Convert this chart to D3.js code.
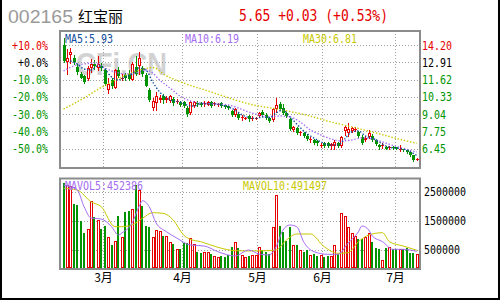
<!DOCTYPE html>
<html>
<head>
<meta charset="utf-8">
<script src="https://cdn.jsdelivr.net/npm/d3@7"></script>
<style>
  body { margin: 0; background: #fff; }
  svg { display: block; }
</style>
</head>
<body>
<script>
// header texts
const stockCode = '002165';
const stockName = '红宝丽';
const quoteText = '5.65 +0.03 (+0.53%)';

// axis ticks
const priceTicks = [14.20, 12.91, 11.62, 10.33, 9.04, 7.75, 6.45];
const priceTickLabels = ['14.20', '12.91', '11.62', '10.33', '9.04', '7.75', '6.45'];
const pctTickLabels = ['+10.0%', '+0.0%', '-10.0%', '-20.0%', '-30.0%', '-40.0%', '-50.0%'];
const volumeTicks = [2500000, 1500000, 500000];
const monthLabels = ['3月', '4月', '5月', '6月', '7月'];
const monthStarts = [12, 35, 57, 76, 97];   // index of first trading day of each month

// daily candles (one per trading day)
const openPrices = [
  14.19, 12.91, 13.44, 13.25, 12.57, 12.01, 11.86, 11.67, 12.50, 12.76,
  12.53, 12.68, 12.38, 10.88, 11.60, 11.03, 12.31, 11.75, 11.97, 12.05,
  11.63, 12.57, 12.68, 12.46, 11.97, 10.85, 9.49, 9.83, 10.10, 10.36,
  10.06, 9.98, 10.13, 9.95, 9.91, 9.91, 9.46, 9.12, 9.64, 9.87,
  9.87, 9.76, 9.72, 9.91, 9.80, 9.76, 9.83, 9.72, 9.64, 9.23,
  8.97, 9.04, 8.78, 8.71, 8.86, 8.71, 8.71, 8.89, 9.19, 8.97,
  8.71, 8.56, 9.38, 9.80, 9.46, 9.08, 8.63, 7.84, 7.96, 7.62,
  7.62, 7.39, 7.13, 7.09, 7.02, 6.68, 6.83, 6.83, 6.61, 6.61,
  6.83, 6.61, 7.73, 7.62, 7.73, 7.88, 7.66, 7.28, 7.06, 7.28,
  7.39, 7.06, 6.72, 6.68, 6.57, 6.49, 6.53, 6.53, 6.38, 6.43,
  6.30, 6.15, 5.93, 5.62
];
const highPrices = [
  14.75, 13.92, 13.96, 13.47, 12.80, 12.20, 11.97, 12.68, 13.14, 13.06,
  13.36, 12.87, 12.50, 11.75, 11.75, 12.42, 12.57, 12.01, 12.12, 12.35,
  12.95, 13.40, 13.70, 12.65, 12.12, 11.00, 10.25, 10.73, 10.47, 10.51,
  10.39, 10.47, 10.28, 10.17, 10.02, 10.02, 9.61, 10.02, 10.02, 9.98,
  9.95, 10.02, 9.98, 10.02, 9.95, 9.87, 9.95, 9.80, 9.72, 9.34,
  9.46, 9.16, 8.97, 8.82, 8.97, 8.86, 8.82, 9.19, 9.31, 9.08,
  8.82, 9.46, 10.21, 9.91, 9.80, 9.19, 8.74, 8.14, 8.07, 7.77,
  7.69, 7.51, 7.32, 7.17, 7.09, 6.87, 6.91, 6.94, 6.87, 7.09,
  6.94, 7.39, 8.22, 8.33, 8.07, 8.07, 7.77, 7.43, 7.36, 7.81,
  7.54, 7.17, 6.79, 6.87, 6.64, 6.61, 6.61, 6.57, 6.72, 6.45,
  6.34, 6.19, 5.97, 5.70
];
const lowPrices = [
  12.91, 12.01, 12.87, 12.80, 12.05, 11.71, 11.37, 11.60, 12.23, 12.42,
  12.35, 12.35, 11.22, 10.62, 11.00, 10.96, 11.82, 11.56, 11.60, 11.60,
  11.56, 11.94, 12.01, 11.90, 11.15, 10.02, 9.31, 9.31, 9.95, 9.87,
  9.95, 9.95, 9.72, 9.83, 9.64, 9.53, 8.86, 9.04, 9.57, 9.64,
  9.61, 9.64, 9.68, 9.57, 9.72, 9.64, 9.57, 9.46, 9.42, 8.89,
  8.86, 8.63, 8.59, 8.63, 8.52, 8.59, 8.63, 8.78, 8.86, 8.63,
  8.44, 8.48, 9.19, 9.34, 9.04, 8.78, 7.81, 7.73, 7.54, 7.47,
  7.32, 7.06, 6.91, 6.79, 6.72, 6.57, 6.53, 6.53, 6.45, 6.38,
  6.57, 6.53, 7.47, 7.39, 7.66, 7.77, 7.32, 6.79, 6.98, 7.21,
  7.02, 6.72, 6.45, 6.49, 6.38, 6.41, 6.41, 6.38, 6.23, 6.23,
  6.08, 5.89, 5.52, 5.55
];
const closePrices = [
  12.99, 13.21, 13.70, 12.91, 12.20, 11.78, 11.45, 12.53, 12.80, 12.61,
  12.80, 12.46, 11.26, 11.30, 11.11, 12.31, 11.90, 11.78, 11.75, 11.67,
  12.80, 12.01, 13.21, 12.01, 11.18, 10.06, 9.98, 10.36, 10.21, 10.06,
  10.21, 10.39, 9.83, 10.02, 9.72, 9.61, 9.04, 9.91, 9.91, 9.76,
  9.68, 9.87, 9.91, 9.64, 9.83, 9.80, 9.61, 9.57, 9.49, 8.97,
  9.38, 8.71, 8.82, 8.74, 8.63, 8.74, 8.74, 9.08, 8.97, 8.71,
  8.52, 9.38, 9.72, 9.42, 9.12, 8.86, 7.92, 8.03, 7.62, 7.66,
  7.39, 7.13, 7.17, 6.87, 6.83, 6.72, 6.61, 6.61, 6.76, 6.91,
  6.64, 7.32, 8.03, 7.88, 7.96, 7.92, 7.39, 6.87, 7.24, 7.58,
  7.09, 6.79, 6.53, 6.72, 6.45, 6.53, 6.49, 6.45, 6.41, 6.30,
  6.15, 5.95, 5.62, 5.65
];
const volumes = [
  2833000, 2753000, 2718000, 2094000, 2060000, 1505000, 1089000, 1228000, 2198000, 1654000,
  1540000, 1228000, 1332000, 951000, 673000, 812000, 1678000, 951000, 1817000, 1852000,
  1921000, 2753000, 2580000, 2025000, 1332000, 1297000, 951000, 1193000, 1159000, 985000,
  985000, 777000, 708000, 535000, 535000, 743000, 743000, 916000, 708000, 431000,
  396000, 431000, 431000, 361000, 292000, 257000, 292000, 257000, 327000, 604000,
  777000, 569000, 327000, 257000, 292000, 327000, 327000, 604000, 500000, 431000,
  361000, 1308000, 2406000, 1332000, 1124000, 812000, 1297000, 673000, 673000, 500000,
  431000, 500000, 327000, 361000, 292000, 327000, 257000, 292000, 292000, 673000,
  361000, 1782000, 1678000, 1297000, 1089000, 985000, 881000, 881000, 951000, 1100000,
  777000, 580000, 535000, 153000, 569000, 604000, 535000, 535000, 535000, 535000,
  569000, 396000, 396000, 361000
];

// moving averages: [day index, value]
const ma5Points = [[2,13.02],[4,12.80],[6,12.42],[8,12.35],[10,12.65],[12,12.42],[14,11.82],[16,11.60],[18,11.82],[20,12.05],[22,12.50],[24,12.35],[26,11.45],[28,10.70],[30,10.25],[32,10.02],[34,9.95],[36,9.72],[38,9.64],[40,9.80],[42,9.80],[44,9.80],[46,9.72],[48,9.57],[50,9.34],[52,8.97],[54,8.78],[56,8.71],[58,8.82],[60,8.78],[62,9.12],[64,9.34],[66,8.82],[68,8.29],[70,7.77],[72,7.39],[74,7.09],[76,6.83],[78,6.72],[80,6.72],[82,7.17],[84,7.69],[86,7.77],[88,7.39],[90,7.24],[92,6.94],[94,6.64],[96,6.49],[98,6.45],[100,6.34],[102,6.08],[103,5.93]];
const ma10Points = [[0,12.27],[3,12.65],[6,12.80],[9,12.87],[12,12.50],[15,12.20],[18,12.05],[21,12.12],[24,12.35],[26,12.12],[28,11.60],[31,11.00],[34,10.39],[37,10.02],[40,9.87],[44,9.80],[48,9.72],[51,9.49],[54,9.19],[57,8.97],[60,8.82],[63,8.89],[66,8.82],[69,8.44],[72,7.84],[75,7.47],[78,7.17],[81,7.02],[84,7.09],[87,7.24],[90,7.17],[93,6.94],[96,6.68],[99,6.45],[103,6.19]];
const ma30Points = [[0,9.42],[5,10.10],[11,11.03],[17,11.82],[24,12.46],[26,12.53],[30,11.90],[35,11.37],[43,10.70],[50,10.10],[54,9.80],[61,9.46],[70,9.01],[78,8.44],[84,8.07],[90,7.69],[97,7.21],[103,6.83]];
const mavol5Points = [[0,2753000],[4,2580000],[6,2001000],[8,1609000],[11,1574000],[14,1308000],[16,1020000],[17,1089000],[20,1436000],[22,2001000],[23,2209000],[25,2001000],[27,1436000],[30,1134000],[33,916000],[37,673000],[41,639000],[45,441000],[50,292000],[54,500000],[57,361000],[60,327000],[62,614000],[64,1193000],[66,1367000],[68,1308000],[70,788000],[73,441000],[77,351000],[80,351000],[83,743000],[86,1134000],[87,1332000],[89,1193000],[90,985000],[93,788000],[96,524000],[99,524000],[103,452386]];
const mavol10Points = [[0,2639000],[4,2580000],[8,2174000],[11,2001000],[15,1308000],[17,1308000],[20,1367000],[23,1599000],[26,1793000],[29,1772000],[32,1540000],[35,1020000],[37,871000],[40,788000],[45,594000],[50,476000],[54,465000],[59,476000],[62,500000],[65,847000],[68,1055000],[72,1055000],[76,614000],[80,386000],[83,406000],[86,788000],[89,1020000],[93,1100000],[95,788000],[99,639000],[103,491497]];

const maLegend = [
  {text: 'MA5:5.93', x: 65, color: '#124c9c'},
  {text: 'MA10:6.19', x: 185, color: '#a46cf2'},
  {text: 'MA30:6.81', x: 303, color: '#c8c800'}
];
const volLegend = [
  {text: 'MAVOL5:452386', x: 65, color: '#a46cf2'},
  {text: 'MAVOL10:491497', x: 243, color: '#c8c800'}
];

const width = 500;
const height = 300;
const RED = '#e60000';
const GREEN = '#009400';
const GRID = '#a0a0a0';
const MONO = '"DejaVu Sans Mono", "Liberation Mono", monospace';

const price = {left: 60, right: 420, top: 31, bottom: 168};
const vol = {left: 60, right: 420, top: 178.5, bottom: 269};

const svg = d3.select('body').append('svg')
  .attr('width', width)
  .attr('height', height);

svg.append('rect').attr('width', width).attr('height', height).attr('fill', '#fff');

// outer frame (left, right, bottom)
svg.append('rect').attr('x', 0).attr('y', 0).attr('width', 2).attr('height', height).attr('fill', '#000');
svg.append('rect').attr('x', width - 2).attr('y', 0).attr('width', 2).attr('height', height).attr('fill', '#000');
svg.append('rect').attr('x', 0).attr('y', height - 2).attr('width', width).attr('height', 2).attr('fill', '#000');

// scales
const n = closePrices.length;
const x = d3.scaleLinear().domain([0, n - 1]).range([63.5, 416.8]);
const step = x(1) - x(0);
const yPrice = d3.scaleLinear()
  .domain([priceTicks[0], priceTicks[priceTicks.length - 1]])
  .range([45.3, 148.5]);
const yVol = d3.scaleLinear().domain([500000, 2500000]).range([250, 192.3]);

// small bitmap-like text: 12px glyphs squeezed to 6px per character
function monoText(g, txt, px, py, color, anchor) {
  return g.append('text')
    .attr('x', px)
    .attr('y', py)
    .attr('font-family', MONO)
    .attr('font-size', 12)
    .attr('textLength', txt.length * 6)
    .attr('lengthAdjust', 'spacingAndGlyphs')
    .attr('text-anchor', anchor || 'start')
    .attr('fill', color)
    .text(txt);
}

// header
svg.append('text')
  .attr('x', 8).attr('y', 23)
  .attr('font-family', '"Liberation Sans", Arial, sans-serif')
  .attr('font-size', 18)
  .attr('textLength', 65)
  .attr('lengthAdjust', 'spacingAndGlyphs')
  .attr('fill', '#9a9a9a')
  .text(stockCode);

svg.append('text')
  .attr('x', 78).attr('y', 22)
  .attr('font-family', '"Noto Sans CJK SC", sans-serif')
  .attr('font-size', 15)
  .attr('fill', '#000')
  .text(stockName);

svg.append('text')
  .attr('x', 239).attr('y', 21)
  .attr('font-family', MONO)
  .attr('font-size', 15)
  .attr('textLength', 149)
  .attr('lengthAdjust', 'spacingAndGlyphs')
  .attr('fill', RED)
  .text(quoteText);

// watermark
svg.append('text')
  .attr('x', 76).attr('y', 75)
  .attr('font-family', '"Liberation Sans", Arial, sans-serif')
  .attr('font-weight', 'bold')
  .attr('font-size', 32)
  .attr('textLength', 91)
  .attr('lengthAdjust', 'spacingAndGlyphs')
  .attr('fill', '#d2d2d2')
  .text('CFi.CN');

// grid
const grid = svg.append('g')
  .attr('stroke', GRID)
  .attr('stroke-width', 1)
  .attr('stroke-dasharray', '1,2')
  .attr('shape-rendering', 'crispEdges');

priceTicks.forEach(t => {
  const yy = Math.round(yPrice(t)) + 0.5;
  grid.append('line').attr('x1', price.left).attr('x2', price.right).attr('y1', yy).attr('y2', yy);
});
volumeTicks.forEach(t => {
  const yy = Math.round(yVol(t)) + 0.5;
  grid.append('line').attr('x1', vol.left).attr('x2', vol.right).attr('y1', yy).attr('y2', yy);
});
const monthX = monthStarts.map(i => Math.round(x(i) - step / 2) + 0.5);
monthX.forEach(mx => {
  grid.append('line').attr('x1', mx).attr('x2', mx).attr('y1', price.top).attr('y2', price.bottom);
  grid.append('line').attr('x1', mx).attr('x2', mx).attr('y1', vol.top).attr('y2', vol.bottom);
});

// candles
const days = d3.range(n).map(i => ({
  i: i,
  o: openPrices[i], h: highPrices[i], l: lowPrices[i], c: closePrices[i],
  v: volumes[i],
  up: closePrices[i] >= openPrices[i]
}));

const candleG = svg.append('g').attr('shape-rendering', 'crispEdges');
days.forEach(d => {
  const cx = Math.round(x(d.i));
  const color = d.up ? RED : GREEN;
  const top = Math.round(yPrice(Math.max(d.o, d.c)));
  const bot = Math.round(yPrice(Math.min(d.o, d.c)));
  const yh = Math.round(yPrice(d.h));
  const yl = Math.round(yPrice(d.l));
  const g = candleG.append('g');
  if (bot - top < 2) {
    g.append('line').attr('x1', cx + 0.5).attr('x2', cx + 0.5).attr('y1', yh).attr('y2', yl + 1).attr('stroke', color);
    g.append('line').attr('x1', cx - 1).attr('x2', cx + 2).attr('y1', top + 0.5).attr('y2', top + 0.5).attr('stroke', color);
  } else if (d.up) {
    g.append('line').attr('x1', cx + 0.5).attr('x2', cx + 0.5).attr('y1', yh).attr('y2', top).attr('stroke', color);
    g.append('line').attr('x1', cx + 0.5).attr('x2', cx + 0.5).attr('y1', bot).attr('y2', yl + 1).attr('stroke', color);
    g.append('rect').attr('x', cx - 0.5).attr('y', top + 0.5).attr('width', 2).attr('height', bot - top - 1)
      .attr('fill', '#fff').attr('stroke', color);
  } else {
    g.append('line').attr('x1', cx + 0.5).attr('x2', cx + 0.5).attr('y1', yh).attr('y2', yl + 1).attr('stroke', color);
    g.append('rect').attr('x', cx - 1).attr('y', top).attr('width', 3).attr('height', bot - top).attr('fill', color);
  }
});

// volume bars
const volG = svg.append('g').attr('shape-rendering', 'crispEdges');
const volBase = vol.bottom - 1;
days.forEach(d => {
  const cx = Math.round(x(d.i));
  const yt = Math.round(yVol(d.v));
  if (d.up) {
    volG.append('rect').attr('x', cx - 0.5).attr('y', yt + 0.5).attr('width', 2).attr('height', Math.max(volBase - yt - 1, 0))
      .attr('fill', '#fff').attr('stroke', RED);
  } else {
    volG.append('rect').attr('x', cx - 1).attr('y', yt).attr('width', 2).attr('height', volBase - yt).attr('fill', GREEN);
  }
});

// moving average lines
svg.append('clipPath').attr('id', 'clipPrice')
  .append('rect').attr('x', price.left).attr('y', price.top).attr('width', price.right - price.left).attr('height', price.bottom - price.top);
svg.append('clipPath').attr('id', 'clipVol')
  .append('rect').attr('x', vol.left).attr('y', vol.top).attr('width', vol.right - vol.left).attr('height', vol.bottom - vol.top);

const priceLine = d3.line().x(d => x(d[0])).y(d => yPrice(d[1])).curve(d3.curveMonotoneX);
const volLine = d3.line().x(d => x(d[0])).y(d => yVol(d[1])).curve(d3.curveMonotoneX);

const maG = svg.append('g').attr('clip-path', 'url(#clipPrice)').attr('fill', 'none')
  .attr('stroke-width', 1.4).attr('stroke-dasharray', '1.4,1.8');
maG.append('path').attr('d', priceLine(ma30Points)).attr('stroke', '#c8c800');
maG.append('path').attr('d', priceLine(ma10Points)).attr('stroke', '#a46cf2');
maG.append('path').attr('d', priceLine(ma5Points)).attr('stroke', '#124c9c');

const mavG = svg.append('g').attr('clip-path', 'url(#clipVol)').attr('fill', 'none').attr('stroke-width', 1);
mavG.append('path').attr('d', volLine(mavol10Points)).attr('stroke', '#c8c800');
mavG.append('path').attr('d', volLine(mavol5Points)).attr('stroke', '#a46cf2');

// panel frames
[price, vol].forEach(p => {
  svg.append('rect')
    .attr('x', p.left).attr('y', p.top)
    .attr('width', p.right - p.left).attr('height', p.bottom - p.top)
    .attr('fill', 'none').attr('stroke', '#8c8c8c').attr('stroke-width', 2);
});

// axis labels
const labels = svg.append('g');
pctTickLabels.forEach((t, k) => {
  const color = k === 0 ? RED : (k === 1 ? '#000' : GREEN);
  monoText(labels, t, 48, yPrice(priceTicks[k]) + 4.5, color, 'end');
});
priceTickLabels.forEach((t, k) => {
  const color = k === 0 ? RED : (k === 1 ? '#000' : GREEN);
  monoText(labels, t, 422, yPrice(priceTicks[k]) + 4.5, color, 'start');
});
volumeTicks.forEach(v => {
  monoText(labels, String(v), 424, yVol(v) + 4, '#000', 'start');
});
monthLabels.forEach((m, k) => {
  labels.append('text')
    .attr('x', monthX[k]).attr('y', 282)
    .attr('text-anchor', 'middle')
    .attr('font-family', '"Noto Sans CJK SC", sans-serif')
    .attr('font-size', 12)
    .attr('fill', '#000')
    .text(m);
});

// legends
maLegend.forEach(l => monoText(labels, l.text, l.x, 42.5, l.color, 'start'));
volLegend.forEach(l => monoText(labels, l.text, l.x, 190, l.color, 'start'));
</script>
</body>
</html>
